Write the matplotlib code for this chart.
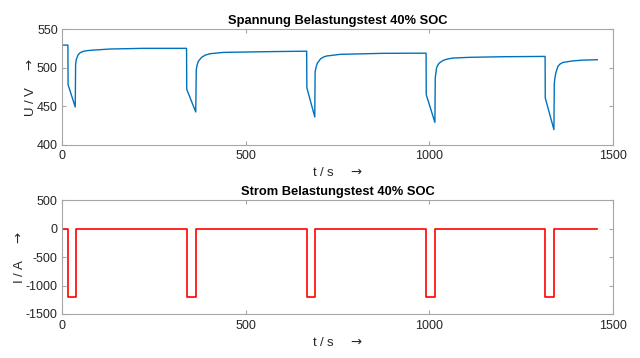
import matplotlib
matplotlib.use("Agg")
import matplotlib.pyplot as plt

plt.rcParams['font.family'] = ['Liberation Sans', 'DejaVu Sans']
plt.rcParams['axes.unicode_minus'] = False
plt.rcParams['mathtext.fontset'] = 'dejavusans'

# ---- data ----
# Voltage curve (t in s, U in V), sampled points
u_t = [0, 16, 16.5, 36, 37, 39, 44, 50, 58, 70, 85, 131, 220, 339,
       339.5, 364, 365.5, 368, 371, 380, 390, 403, 439, 548, 666,
       666.5, 688, 689, 692, 695, 704, 712, 720, 757, 874, 991,
       991.5, 1015, 1016, 1019.5, 1023, 1027, 1038, 1050, 1065, 1110, 1201, 1315,
       1315.5, 1339, 1340, 1341, 1344, 1350, 1356, 1364, 1391, 1420, 1457]
u_v = [529.5, 529.5, 478, 449, 504, 511, 517, 519.8, 521.4, 522.4, 523, 524.4, 525.3, 525.3,
       472, 442.5, 497.5, 504, 508.4, 513.6, 516.5, 518.3, 520, 520.9, 521.6,
       474, 436, 495, 501.5, 506, 511.8, 514, 515.3, 517.5, 518.8, 519,
       465, 429, 486.7, 499.7, 503.5, 506.2, 509.7, 511.5, 512.7, 513.6, 514.4, 514.8,
       460.7, 419.5, 478, 484.5, 493, 502, 505, 507, 509, 510, 510.5]

# Current pulses
pulse_start = [16, 340, 666, 992, 1316]
pulse_end = [38, 364, 690, 1015, 1340]
pulse_current = -1200
rest_current = 0
t_final = 1457

# step series for the current
i_t = [0]
i_v = [rest_current]
for s, e in zip(pulse_start, pulse_end):
    i_t += [s, s, e, e]
    i_v += [rest_current, pulse_current, pulse_current, rest_current]
i_t.append(t_final)
i_v.append(rest_current)

x_ticks = [0, 500, 1000, 1500]
u_ticks = [400, 450, 500, 550]
i_ticks = [-1500, -1000, -500, 0, 500]

fig = plt.figure(figsize=(6.4, 3.58), dpi=100)
ax1 = fig.add_axes([0.0969, 0.596, 0.861, 0.322])
ax2 = fig.add_axes([0.0969, 0.123, 0.861, 0.318])

box_col = '#a6a6a6'
txt_col = '#262626'

ax1.plot(u_t, u_v, color='#0072BD', lw=1.0)
ax2.plot(i_t, i_v, color='#FF0000', lw=1.2)

arrow = r'$\rightarrow$'
for ax, yt, ylab, title in [
        (ax1, u_ticks, 'U / V    ' + arrow, 'Spannung Belastungstest 40% SOC'),
        (ax2, i_ticks, 'I / A    ' + arrow, 'Strom Belastungstest 40% SOC')]:
    ax.set_xlim(0, 1500)
    ax.set_ylim(yt[0], yt[-1])
    ax.set_xticks(x_ticks)
    ax.set_yticks(yt)
    ax.tick_params(direction='in', top=True, right=True, length=3,
                   color=box_col, labelcolor=txt_col, labelsize=9, pad=3)
    ax.tick_params(axis='x', pad=4)
    for sp in ax.spines.values():
        sp.set_color(box_col)
        sp.set_linewidth(0.8)
    ax.set_xlabel('t / s    ' + arrow, fontsize=9.5, color=txt_col, labelpad=3)
    ax.set_ylabel(ylab, fontsize=9.5, color=txt_col, labelpad=0)
    ax.set_title(title, fontsize=9.3, fontweight='bold', color='black', pad=4)

fig.savefig('out.png', dpi=100)
